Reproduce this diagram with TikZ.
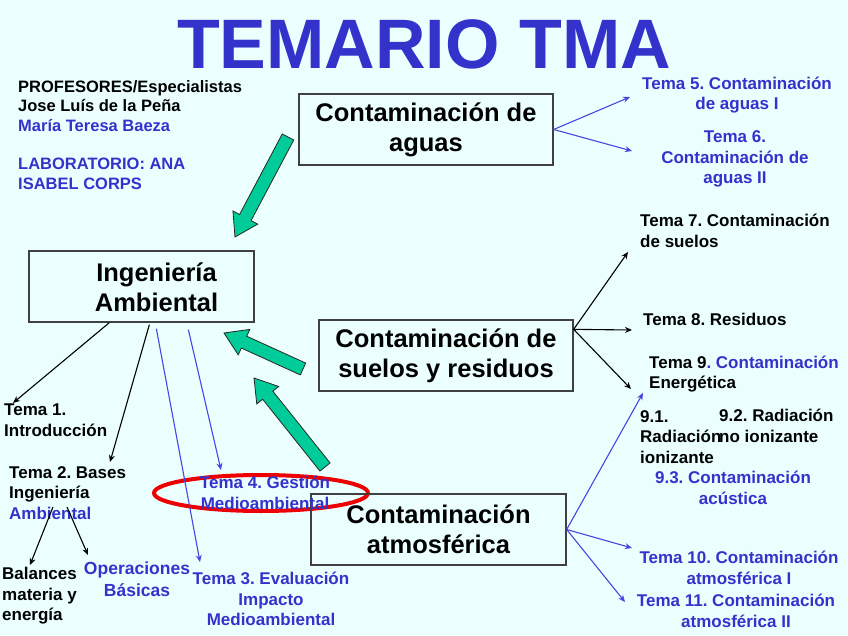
\documentclass[tikz,border=0pt]{standalone}
\usepackage{fontspec}
\setmainfont{Liberation Sans}
\usetikzlibrary{calc,arrows.meta}
\frenchspacing
\definecolor{bg}{RGB}{236,255,255}
\definecolor{tblue}{RGB}{51,51,204}
\definecolor{lblue}{RGB}{70,70,225}
\definecolor{tgreen}{RGB}{0,204,153}
\definecolor{tred}{RGB}{238,0,0}
\newcommand\greenarrow[2]{%
  \coordinate (gh) at ($(#2)!22pt!(#1)$);
  \filldraw[garrow] ($(#1)!6.5pt!90:(#2)$) -- ($(gh)!6.5pt!-90:(#1)$) -- ($(gh)!14pt!-90:(#1)$) -- (#2)
    -- ($(gh)!14pt!90:(#1)$) -- ($(gh)!6.5pt!90:(#1)$) -- ($(#1)!6.5pt!-90:(#2)$) -- cycle;}
\tikzset{
  garrow/.style={fill=tgreen,draw=black!85,line width=0.8pt,line join=miter},
  box/.style={draw=black!75,line width=1.3pt,font=\fontsize{25.5}{30}\selectfont\bfseries,align=center,inner sep=0},
  tema/.style={font=\fontsize{17}{20.5}\selectfont\bfseries,inner sep=0,align=center},
  temaL/.style={tema,align=left,anchor=west},
  blk/.style={draw=black,line width=1.1pt,-{Stealth[length=7pt,width=6pt]}},
  blu/.style={draw=lblue,line width=1.1pt,-{Stealth[length=7pt,width=6pt]}},
}
\begin{document}
\begin{tikzpicture}[x=1pt,y=-1pt]
\fill[bg] (0,0) rectangle (848,636);
\useasboundingbox (0,0) rectangle (848,636);

% title
\node[font=\fontsize{70}{70}\selectfont\bfseries,text=tblue,inner sep=0] (title) at (424,44) {TEMARIO TMA};

% staff
\node[font=\fontsize{16.5}{19.5}\selectfont\bfseries,inner sep=0,align=left,anchor=west] (prof) at (18,106)
  {PROFESORES/Especialistas\\Jose Luís de la Peña\\{\color{tblue}María Teresa Baeza}};
\node[font=\fontsize{16.5}{19.5}\selectfont\bfseries,inner sep=0,align=left,anchor=west,text=tblue] (lab) at (18,174)
  {LABORATORIO: ANA\\ISABEL CORPS};

% red ellipse
\draw[tred,line width=4pt] (261,493) ellipse [x radius=107, y radius=18];

% boxes
\node[box,minimum width=254,minimum height=71] (aguas) at (426,129.5) {Contaminación de\\aguas};
\node[box,minimum width=225,minimum height=71] (ing) at (141.5,286.5) {};
\node[box,draw=none] (ingt) at (156.5,287) {Ingeniería\\Ambiental};
\node[box,minimum width=254,minimum height=71] (suelos) at (446,355.5) {Contaminación de\\suelos y residuos};
\node[box,minimum width=255,minimum height=71] (atm) at (438.5,529.5) {Contaminación\\atmosférica};

% temas
\node[tema,text=tblue] (t5) at (737,95) {Tema 5. Contaminación\\de aguas I};
\node[tema,text=tblue] (t6) at (735,159) {Tema 6.\\Contaminación de\\aguas II};
\node[temaL] (t7) at (640,231) {Tema 7. Contaminación\\de suelos};
\node[temaL] (t8) at (643,319) {Tema 8. Residuos};
\node[temaL] (t9) at (649,374) {Tema 9{\color{tblue}. Contaminación}\\Energética};
\node[temaL] (t91) at (640,437) {9.1.\\Radiación\\ionizante};
\node[temaL] (t92) at (719,426) {9.2. Radiación\\no ionizante};
\node[tema,text=tblue] (t93) at (733,488) {9.3. Contaminación\\acústica};
\node[tema,text=tblue] (t10) at (739,568) {Tema 10. Contaminación\\atmosférica I};
\node[tema,text=tblue] (t11) at (736,611) {Tema 11. Contaminación\\atmosférica II};
\node[temaL] (t1) at (4,420) {Tema 1.\\Introducción};
\node[temaL] (t2) at (9,493) {Tema 2. Bases\\Ingeniería\\{\color{tblue}Ambiental}};
\node[temaL] (bal) at (2,596) {Balances\\materia y\\energía};
\node[tema,text=tblue,font=\fontsize{17.5}{21.5}\selectfont\bfseries] (ops) at (137,579) {Operaciones\\Básicas};
\node[tema,text=tblue] (t3) at (271,599) {Tema 3. Evaluación\\Impacto\\Medioambiental};
\node[tema,text=tblue] (t4) at (265,493) {Tema 4. Gestión\\Medioambiental};

% green arrows
\coordinate (g1s) at (288,137); \coordinate (g1e) at (235,237);
\coordinate (g2s) at (303,369); \coordinate (g2e) at (224,333);
\coordinate (g3s) at (325,467); \coordinate (g3e) at (254,378);
\greenarrow{g1s}{g1e}
\greenarrow{g2s}{g2e}
\greenarrow{g3s}{g3e}

% thin connectors
\draw[blu] (aguas.east) -- ($(t5.center)+(-107,2)$);
\draw[blu] (aguas.east) -- ($(t6.center)+(-103,-8)$);
\draw[blk] ($(suelos.north east)+(0,10)$) -- ($(t7.west)+(-12,21)$);
\draw[blk] ($(suelos.north east)+(0,10)$) -- ($(t8.west)+(-11,11)$);
\draw[blk] ($(suelos.north east)+(0,10)$) -- ($(t9.west)+(-18,15)$);
\draw[blu] (atm.east) -- ($(t91.west)+(3,-44)$);
\draw[blu] (atm.east) -- ($(t10.center)+(-107,-20)$);
\draw[blu] (atm.east) -- ($(t11.center)+(-111,-9)$);
\draw[blk] ($(ing.south west)+(81,0)$) -- ($(t1.west)+(9,-17)$);
\draw[blk] ($(ing.south west)+(121,2)$) -- ($(t2.west)+(101,-31)$);
\draw[blu] ($(ing.south west)+(128,6)$) -- ($(t3.center)+(-71,-37)$);
\draw[blu] ($(ing.south west)+(160,7)$) -- ($(t4.center)+(-44,-23)$);
\draw[blk] ($(t2.west)+(44,14)$) -- ($(bal.west)+(28,-31)$);
\draw[blk] ($(t2.west)+(58,14)$) -- ($(ops.center)+(-49,-24)$);
\end{tikzpicture}
\end{document}
